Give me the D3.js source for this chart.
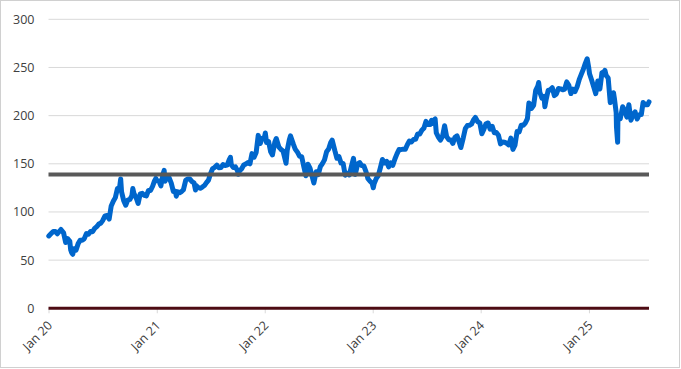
<!DOCTYPE html>
<html><head><meta charset="utf-8">
<script src="https://cdn.jsdelivr.net/npm/d3@7"></script>
<style>
html,body{margin:0;padding:0;background:#fff;}
svg{display:block;font-family:"Open Sans",sans-serif;}
</style></head>
<body><svg id="c" width="681" height="369"></svg>
<script>
const dates = [
"2020-01-02","2020-01-10","2020-01-17","2020-01-24","2020-01-31","2020-02-07","2020-02-12","2020-02-21","2020-02-28","2020-03-06","2020-03-13","2020-03-16","2020-03-20","2020-03-23","2020-03-27","2020-04-03","2020-04-10","2020-04-17","2020-04-24","2020-05-01","2020-05-08","2020-05-15","2020-05-22","2020-05-29","2020-06-05","2020-06-12","2020-06-19","2020-06-26","2020-07-02","2020-07-10","2020-07-17","2020-07-24","2020-07-31","2020-08-07","2020-08-14","2020-08-21","2020-08-28","2020-09-01","2020-09-04","2020-09-11","2020-09-18","2020-09-25","2020-10-02","2020-10-09","2020-10-12","2020-10-16","2020-10-23","2020-10-30","2020-11-06","2020-11-13","2020-11-20","2020-11-27","2020-12-04","2020-12-11","2020-12-18","2020-12-24","2020-12-29","2020-12-31",
"2021-01-08","2021-01-15","2021-01-22","2021-01-26","2021-01-29","2021-02-05","2021-02-12","2021-02-19","2021-02-26","2021-03-05","2021-03-08","2021-03-12","2021-03-19","2021-03-26","2021-04-01","2021-04-09","2021-04-16","2021-04-23","2021-04-30","2021-05-07","2021-05-12","2021-05-14","2021-05-21","2021-05-28","2021-06-04","2021-06-11","2021-06-18","2021-06-25","2021-07-02","2021-07-09","2021-07-16","2021-07-23","2021-07-30","2021-08-06","2021-08-13","2021-08-20","2021-08-27","2021-09-03","2021-09-07","2021-09-10","2021-09-17","2021-09-24","2021-10-01","2021-10-04","2021-10-08","2021-10-15","2021-10-22","2021-10-29","2021-11-05","2021-11-12","2021-11-19","2021-11-26","2021-12-03","2021-12-10","2021-12-17","2021-12-23","2021-12-31",
"2022-01-03","2022-01-07","2022-01-14","2022-01-21","2022-01-27","2022-02-04","2022-02-09","2022-02-18","2022-02-25","2022-03-04","2022-03-14","2022-03-18","2022-03-25","2022-03-29","2022-04-08","2022-04-14","2022-04-22","2022-04-29","2022-05-06","2022-05-13","2022-05-20","2022-05-27","2022-06-03","2022-06-10","2022-06-16","2022-06-24","2022-07-01","2022-07-08","2022-07-15","2022-07-22","2022-07-29","2022-08-05","2022-08-12","2022-08-17","2022-08-26","2022-09-02","2022-09-09","2022-09-16","2022-09-23","2022-09-30","2022-10-07","2022-10-14","2022-10-21","2022-10-28","2022-11-03","2022-11-11","2022-11-18","2022-11-25","2022-12-02","2022-12-09","2022-12-16","2022-12-23","2022-12-30",
"2023-01-03","2023-01-06","2023-01-13","2023-01-20","2023-01-27","2023-02-03","2023-02-10","2023-02-17","2023-02-24","2023-03-03","2023-03-10","2023-03-17","2023-03-24","2023-03-31","2023-04-06","2023-04-14","2023-04-21","2023-04-28","2023-05-05","2023-05-12","2023-05-19","2023-05-26","2023-06-02","2023-06-09","2023-06-16","2023-06-23","2023-06-30","2023-07-07","2023-07-14","2023-07-19","2023-07-21","2023-07-28","2023-07-31","2023-08-04","2023-08-11","2023-08-18","2023-08-25","2023-09-01","2023-09-08","2023-09-15","2023-09-22","2023-09-29","2023-10-06","2023-10-13","2023-10-20","2023-10-26","2023-11-03","2023-11-10","2023-11-17","2023-11-24","2023-12-01","2023-12-08","2023-12-14","2023-12-22","2023-12-29",
"2024-01-05","2024-01-12","2024-01-19","2024-01-26","2024-02-02","2024-02-09","2024-02-16","2024-02-23","2024-03-01","2024-03-08","2024-03-15","2024-03-22","2024-03-28","2024-04-05","2024-04-12","2024-04-19","2024-04-26","2024-05-03","2024-05-10","2024-05-17","2024-05-24","2024-05-31","2024-06-07","2024-06-12","2024-06-14","2024-06-21","2024-06-28","2024-07-05","2024-07-12","2024-07-15","2024-07-19","2024-07-26","2024-08-02","2024-08-05","2024-08-09","2024-08-16","2024-08-23","2024-08-30","2024-09-06","2024-09-13","2024-09-20","2024-09-27","2024-10-04","2024-10-11","2024-10-18","2024-10-25","2024-11-01","2024-11-08","2024-11-15","2024-11-22","2024-11-29","2024-12-06","2024-12-13","2024-12-20","2024-12-26","2024-12-31",
"2025-01-03","2025-01-10","2025-01-17","2025-01-24","2025-01-31","2025-02-07","2025-02-14","2025-02-21","2025-02-24","2025-02-28","2025-03-07","2025-03-14","2025-03-21","2025-03-25","2025-03-28","2025-04-03","2025-04-04","2025-04-08","2025-04-09","2025-04-11","2025-04-17","2025-04-25","2025-05-02","2025-05-09","2025-05-16","2025-05-23","2025-05-30","2025-06-06","2025-06-13","2025-06-20","2025-06-27","2025-07-03","2025-07-11","2025-07-18","2025-07-23"
];
const prices = [
75.1,77.6,79.7,79.6,77.4,80.0,81.8,78.3,68.3,72.3,69.5,60.6,57.3,56.1,61.9,60.4,66.9,70.7,70.7,72.3,77.5,76.9,79.7,79.5,82.9,84.7,87.4,88.4,91.0,95.9,96.3,92.6,106.3,111.1,114.9,124.4,124.8,134.2,120.9,112.0,107.0,112.3,113.0,117.0,124.4,119.0,115.0,108.9,118.7,119.3,117.3,116.6,122.3,122.4,126.7,132.0,134.9,132.7,
132.1,127.1,139.1,143.2,132.0,136.8,135.4,129.9,121.3,121.4,116.4,121.0,120.0,121.2,123.0,133.0,134.2,134.3,131.5,130.2,122.8,127.5,125.4,124.6,125.9,127.4,130.5,133.1,140.0,145.1,146.4,148.6,145.9,146.1,149.1,148.2,148.6,154.3,156.7,149.0,146.1,146.9,142.7,139.1,142.9,144.8,148.7,149.8,151.3,150.0,160.6,156.8,161.8,179.5,171.1,176.3,177.6,
182.0,172.2,173.1,162.4,159.2,172.4,176.3,167.3,164.9,163.2,150.6,164.0,174.7,179.0,170.1,165.3,161.8,157.7,157.3,147.1,137.6,149.6,145.4,137.1,130.1,141.7,138.9,147.0,150.2,154.1,162.5,165.4,172.1,174.6,163.6,155.8,157.4,150.7,150.4,138.2,140.1,138.4,147.3,155.7,138.9,149.7,151.3,148.1,147.8,142.2,134.5,131.9,129.9,
125.1,129.6,134.8,137.9,145.9,154.5,151.0,152.6,146.7,151.0,148.5,155.0,160.3,164.9,164.7,165.2,165.0,169.7,173.6,172.6,175.2,175.4,181.0,181.0,184.9,187.0,194.0,190.7,190.7,195.1,191.9,195.8,196.5,182.0,177.8,174.5,178.6,189.5,178.2,175.0,174.8,171.2,177.5,178.9,172.9,166.9,176.7,186.4,189.7,190.0,191.2,195.7,198.1,193.6,192.5,
181.2,185.9,191.6,192.4,185.9,188.9,182.3,182.5,179.7,170.7,172.6,172.3,171.5,169.6,176.6,165.0,169.3,183.4,183.1,189.9,190.0,192.3,196.9,213.1,212.5,207.5,210.6,226.3,230.5,234.4,224.3,218.0,219.9,209.3,216.2,226.1,226.8,229.0,220.8,222.5,228.2,227.8,226.8,227.6,235.0,231.4,222.9,227.5,225.0,229.9,237.3,242.8,248.1,254.5,259.0,250.4,
243.4,236.9,230.0,222.8,236.0,227.6,244.6,245.6,247.1,241.8,239.1,213.5,218.3,223.8,217.9,203.2,188.4,172.4,198.9,198.2,197.0,209.3,205.4,198.5,211.3,195.3,200.9,203.9,196.5,201.0,201.1,213.6,211.2,211.2,214.2
];
const refLevel = 139;
const zeroLevel = 0;
const yTicks = [0, 50, 100, 150, 200, 250, 300];
const xTickDates = ["2020-01-01","2021-01-01","2022-01-01","2023-01-01","2024-01-01","2025-01-01"];
const xTickLabels = ["Jan 20","Jan 21","Jan 22","Jan 23","Jan 24","Jan 25"];

const parse = d3.timeParse("%Y-%m-%d");
const data = dates.map((d, i) => ({date: parse(d), value: prices[i]}));

const svg = d3.select("#c");
const L = 48.5, R = 649, T = 19.3, B = 308.3;

svg.append("rect").attr("x", 0.5).attr("y", 0.5).attr("width", 679).attr("height", 367)
  .attr("fill", "#fff").attr("stroke", "#d0d0d0");

const x = d3.scaleTime().domain([parse("2020-01-01"), data[data.length - 1].date]).range([L, R]);
const y = d3.scaleLinear().domain([0, 300]).range([B, T]);

// grid
svg.append("g").selectAll("line").data(yTicks.filter(v => v !== 0)).join("line")
  .attr("x1", L).attr("x2", R).attr("y1", d => y(d)).attr("y2", d => y(d))
  .attr("stroke", "#d9d9d9").attr("stroke-width", 1);

// y labels
const yAxis = d3.axisLeft(y).tickValues(yTicks).tickSize(0).tickPadding(14);
const gy = svg.append("g").attr("transform", `translate(${L},0)`).call(yAxis);
gy.select(".domain").remove();
gy.selectAll("text").attr("font-family", "'Open Sans', sans-serif").attr("font-size", 12.5).attr("fill", "#404040");

// x axis ticks
const xAxis = d3.axisBottom(x).tickValues(xTickDates.map(parse))
  .tickFormat((d, i) => xTickLabels[i]).tickSize(5).tickPadding(0);
const gx = svg.append("g").attr("transform", `translate(0,${B})`).call(xAxis);
gx.select(".domain").remove();
gx.selectAll(".tick line").attr("stroke", "#d9d9d9");
gx.selectAll("text")
  .attr("font-family", "'Open Sans', sans-serif").attr("font-size", 12.5).attr("fill", "#404040")
  .attr("text-anchor", "end").attr("dy", null).attr("y", 0)
  .attr("transform", "translate(4,18) rotate(-45)");

// price line
const line = d3.line().x(d => x(d.date)).y(d => y(d.value));
svg.append("path").datum(data).attr("d", line)
  .attr("fill", "none").attr("stroke", "#0066cc").attr("stroke-width", 5)
  .attr("stroke-linejoin", "round").attr("stroke-linecap", "round");

// reference line
svg.append("line").attr("x1", L).attr("x2", R).attr("y1", y(refLevel)).attr("y2", y(refLevel))
  .attr("stroke", "#595959").attr("stroke-width", 4);
// zero line
svg.append("line").attr("x1", L).attr("x2", R).attr("y1", y(zeroLevel)).attr("y2", y(zeroLevel))
  .attr("stroke", "#4d0b13").attr("stroke-width", 3);
</script></body></html>
